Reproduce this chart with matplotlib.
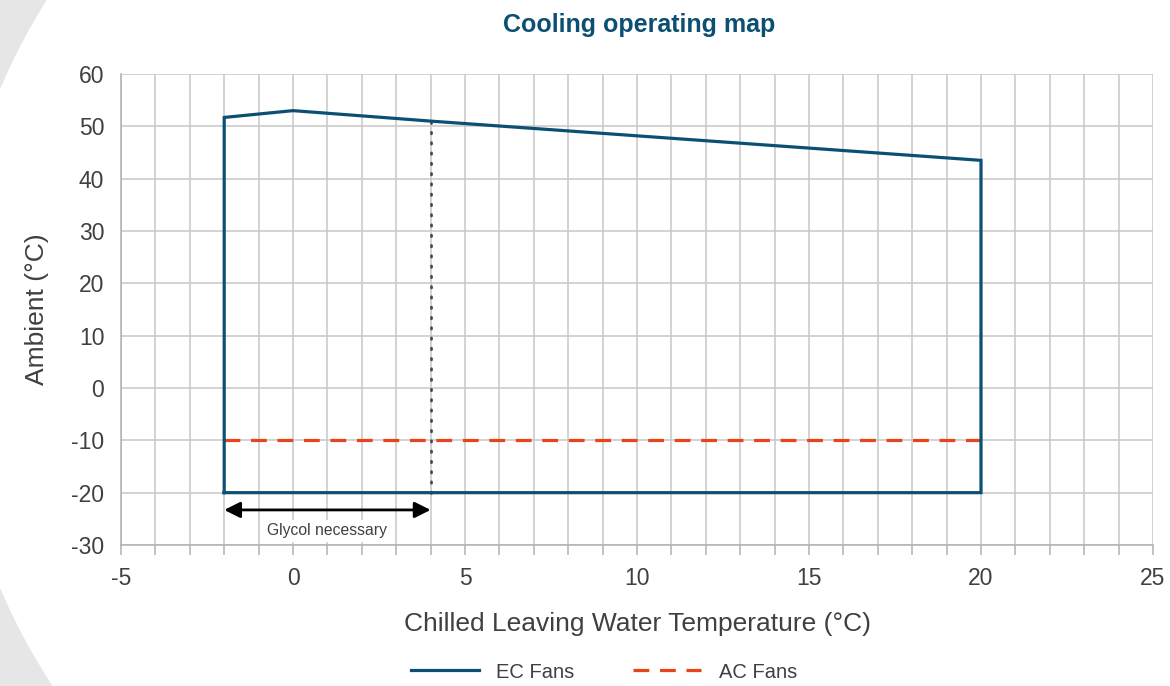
import numpy as np
import matplotlib
matplotlib.use('Agg')
import matplotlib.pyplot as plt
from matplotlib.patches import Circle, Rectangle

plt.rcParams['font.family'] = ['Liberation Sans', 'DejaVu Sans']
plt.rcParams['axes.unicode_minus'] = False

# envelope of the EC fans (closed polygon)
ec_x = [-2, -2, 0, 4, 20, 20, -2]
ec_y = [-20, 51.7, 53, 51, 43.5, -20, -20]

# AC fans lower ambient limit
ac_x = [-2, 20]
ac_y = [-10, -10]

# glycol limit
glycol_x = [4, 4]
glycol_y = [-20, 51]
glycol_range = [-2, 4]
glycol_arrow_y = -23.3
glycol_text_y = -27.3

xlim = (-5, 25)
ylim = (-30, 60)
xticks = np.arange(-5, 26, 5)
yticks = np.arange(-30, 61, 10)

azul = '#0b5072'
laranja = '#e8431a'
cinza_txt = '#404040'
cinza_grid = '#c8c8c8'

fig = plt.figure(figsize=(11.7, 6.86), dpi=100)

# fundo cinza com arco branco na esquerda
fundo = Rectangle((0, 0), 1.5, 6.86, transform=fig.dpi_scale_trans,
                  facecolor='#e6e6e6', edgecolor='none', zorder=-10)
circ = Circle((5.84, 6.86 - 3.385), 6.35, transform=fig.dpi_scale_trans,
              facecolor='white', edgecolor='none', zorder=-9)
fig.add_artist(fundo)
fig.add_artist(circ)

ax = fig.add_axes([121 / 1170, 1 - 545 / 686, (1153 - 121) / 1170, (545 - 74) / 686])
ax.set_facecolor('none')

ax.plot(ec_x, ec_y, color=azul, lw=2.3, label='EC Fans', zorder=4, solid_joinstyle='miter')
ax.plot(ac_x, ac_y, color=laranja, lw=2.3, ls=(0, (4.95, 3.34)), label='AC Fans', zorder=3)
ax.plot(glycol_x, glycol_y, color='#4a4a4a', lw=2, ls=(0, (0.5, 3.2)),
        dash_capstyle='round', zorder=3)

ax.annotate('', xy=(glycol_range[1], glycol_arrow_y), xytext=(glycol_range[0], glycol_arrow_y),
            arrowprops=dict(arrowstyle='<|-|>', color='black', lw=2, mutation_scale=24,
                            shrinkA=0, shrinkB=0), zorder=5)
ax.text(np.mean(glycol_range), glycol_text_y, 'Glycol necessary', ha='center', va='center',
        fontsize=11.3, color=cinza_txt, zorder=5,
        bbox=dict(facecolor='white', edgecolor='none', pad=2.5))

ax.set_xlim(*xlim)
ax.set_ylim(*ylim)
ax.set_xticks(xticks)
ax.set_yticks(yticks)
ax.set_xticks(np.arange(-5, 26, 1), minor=True)
ax.grid(True, which='both', axis='x', color=cinza_grid, lw=1.1)
ax.grid(True, which='major', axis='y', color=cinza_grid, lw=1.1)
ax.set_axisbelow(True)

for s in ['top', 'right']:
    ax.spines[s].set_visible(False)
for s in ['left', 'bottom']:
    ax.spines[s].set_color('#b0b0b0')
    ax.spines[s].set_linewidth(1.1)

ax.tick_params(axis='x', which='both', length=7, width=1.1, color='#b0b0b0',
               labelsize=16.5, labelcolor=cinza_txt, pad=9)
ax.tick_params(axis='y', length=0, labelsize=16.5, labelcolor=cinza_txt, pad=12)

ax.set_xlabel('Chilled Leaving Water Temperature (°C)', fontsize=19, color=cinza_txt, labelpad=16)
ax.set_ylabel('Ambient (°C)', fontsize=19, color=cinza_txt, labelpad=16)

fig.text(0.546, 1 - 25 / 686, 'Cooling operating map', ha='center', va='center',
         fontsize=18, fontweight='bold', color=azul)

fig.legend(loc='center', bbox_to_anchor=(0.516, 1 - 672 / 686), ncol=2, frameon=False,
           fontsize=14.5, handlelength=3.4, handletextpad=0.85, columnspacing=2.9,
           labelcolor=cinza_txt)

fig.savefig('out.png', dpi=100)
